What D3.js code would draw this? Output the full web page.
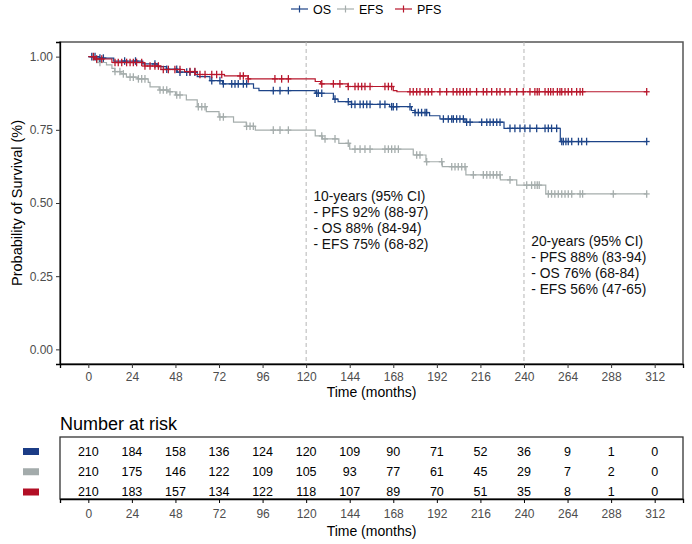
<html>
  <head>
    <meta charset="utf-8">
    <title>Survival curves</title>
    <script src="https://d3js.org/d3.v7.min.js"></script>
    <style>
      body { margin: 0; background: #fff; }
      text { font-family: 'Liberation Sans', Arial, sans-serif; }
    </style>
  </head>
  <body>
    <script>
      // --- data ---
      var months = [0, 24, 48, 72, 96, 120, 144, 168, 192, 216, 240, 264, 288, 312];
      var yTicks = [0, 0.25, 0.5, 0.75, 1];
      var seriesNames = ["OS", "EFS", "PFS"];

      var riskOS  = [210, 184, 158, 136, 124, 120, 109, 90, 71, 52, 36, 9, 1, 0];
      var riskEFS = [210, 175, 146, 122, 109, 105, 93, 77, 61, 45, 29, 7, 2, 0];
      var riskPFS = [210, 183, 157, 134, 122, 118, 107, 89, 70, 51, 35, 8, 1, 0];

      // [time, survival] at each drop
      var osSteps = [[0, 1], [6, 0.995], [14, 0.985], [30, 0.975], [38, 0.966], [43, 0.957], [49, 0.947],
        [60, 0.932], [67, 0.918], [74, 0.907], [91, 0.892], [94, 0.884], [125, 0.875], [135, 0.855],
        [137.6, 0.846], [145, 0.837], [166, 0.829], [178, 0.816], [180, 0.809], [188, 0.798],
        [193.7, 0.787], [207.5, 0.776], [229, 0.755], [260, 0.71]];
      var efsSteps = [[0, 1], [3, 0.99], [6, 0.98], [10, 0.972], [13, 0.96], [14.5, 0.949], [18, 0.941],
        [21, 0.93], [27, 0.924], [33, 0.912], [34, 0.897], [39, 0.886], [44, 0.88], [48, 0.869],
        [54, 0.852], [60, 0.829], [65, 0.812], [72, 0.794], [80, 0.776], [87, 0.762], [92, 0.749],
        [125, 0.729], [129, 0.719], [138, 0.704], [144, 0.684], [179, 0.664], [186, 0.641],
        [195, 0.624], [208, 0.596], [227, 0.579], [236, 0.561], [252, 0.531]];
      var pfsSteps = [[0, 1], [3.5, 0.992], [13, 0.98], [31, 0.968], [40, 0.956], [53, 0.949], [59, 0.939],
        [75, 0.934], [88, 0.924], [125, 0.915], [128, 0.907], [143, 0.898], [168, 0.884], [170, 0.88]];

      // censoring times (months)
      var osCensor = [1.9, 3.7, 6.4, 8.3, 20, 26, 36.7, 43.2, 48.7, 50.5, 54.2, 56, 58.7, 68, 72.5, 74.4,
        79, 80.8, 82.6, 85.4, 87.2, 101.9, 105.6, 110.2, 125.8, 126.7, 128.6, 135.9, 143.2, 145, 146.9,
        149.7, 151.5, 153.4, 155.2, 160.7, 163.4, 167.1, 168, 169.9, 177.2, 180, 181.8, 183.6, 185.5,
        186.4, 195.6, 198.3, 200.2, 201.1, 202.9, 204.7, 206.6, 208.4, 210.3, 216.7, 219.5, 221.3,
        223.1, 225, 226.8, 232.3, 235, 237.8, 240.5, 243.3, 247, 251.6, 253.4, 255.2, 258,
        260.8, 261.7, 263.1, 264.4, 266.3, 270, 271.8, 274.5, 307.6];
      var efsCensor = [2.8, 4.6, 6.4, 14.7, 17.4, 19.3, 23, 24.8, 27.6, 29.4, 31.2, 39.5, 41.3, 43.2, 45,
        48.7, 50.5, 60.6, 62.5, 64.3, 72.5, 74.4, 87.2, 89.1, 90.9, 101.9, 105.6, 110.2, 128.6, 130.4,
        135.9, 143.2, 146.9, 149.7, 152.4, 155.2, 163.4, 165.3, 167.1, 168.9, 170.8, 180.9, 182.7,
        186.4, 194.7, 200.2, 202, 203.8, 205.7, 207.5, 212.1, 217.6, 219.5, 221.3, 223.1, 225, 226.8,
        232.3, 241.5, 244.2, 246, 247.3, 248.4, 253.4, 255.2, 257, 258.9, 260.8, 262.6, 264.4, 266.3,
        270.9, 272.3, 289.2, 307.6];
      var pfsCensor = [2.8, 4.6, 7.4, 14.7, 16.5, 18.4, 21.1, 23, 24.8, 26.6, 29.4, 31.2, 34, 36.7, 38.6,
        41.3, 44.1, 47.7, 50.5, 56, 58.7, 61.5, 64.3, 68, 70.7, 73.5, 83.6, 85.4, 88.1, 102.8, 106.5,
        110.2, 128.6, 135, 138.6, 143.2, 146.9, 148.7, 150.6, 152.4, 155.2, 163.4, 165.3, 167.1, 177.2,
        179, 180.9, 182.7, 185.5, 187.3, 189.2, 193.7, 197.4, 201, 203, 204.7, 206.6, 208.4, 210.3,
        213.9, 217.6, 219.5, 222.2, 225, 226.8, 229.5, 232.3, 236, 239.6, 243.3, 246, 247.3, 248.4,
        251.6, 253.4, 254.7, 256.1, 258.4, 259.8, 260.8, 262.6, 264.4, 266.3, 269, 270.9, 272.3, 307.6];

      var note10 = ["10-years (95% CI)", "- PFS 92% (88-97)", "- OS 88% (84-94)", "- EFS 75% (68-82)"];
      var note20 = ["20-years (95% CI)", "- PFS 88% (83-94)", "- OS 76% (68-84)", "- EFS 56% (47-65)"];

      var colors = { OS: "#1d4488", EFS: "#a5adac", PFS: "#b8172c" };
      var swatch = { OS: "#1b3c86", EFS: "#a3abab", PFS: "#b20e25" };

      var width = 692, height = 544;
      var pLeft = 60, pRight = 683, pTop = 42, pBottom = 364;

      var svg = d3.select("body").append("svg")
        .attr("width", width)
        .attr("height", height);

      var x = d3.scaleLinear().domain([-15.6, 327.6]).range([pLeft, pRight]);
      var y = d3.scaleLinear().domain([-0.05, 1.05]).range([pBottom, pTop]);

      // panel frame
      svg.append("rect")
        .attr("x", pLeft).attr("y", pTop)
        .attr("width", pRight - pLeft).attr("height", pBottom - pTop)
        .attr("fill", "none").attr("stroke", "#555").attr("stroke-width", 1.5);

      // reference lines at 10 and 20 years
      svg.selectAll(".ref").data([120, 240]).enter().append("line")
        .attr("x1", function(d) { return x(d); }).attr("x2", function(d) { return x(d); })
        .attr("y1", pTop).attr("y2", pBottom)
        .attr("stroke", "#b5b5b5").attr("stroke-dasharray", "4,3");

      function survAt(steps, t) {
        var s = steps[0][1];
        for (var i = 0; i < steps.length; i++) {
          if (steps[i][0] <= t) s = steps[i][1];
        }
        return s;
      }

      var line = d3.line()
        .x(function(d) { return x(d[0]); })
        .y(function(d) { return y(d[1]); })
        .curve(d3.curveStepAfter);

      var curves = [
        { name: "EFS", steps: efsSteps, censor: efsCensor },
        { name: "OS", steps: osSteps, censor: osCensor },
        { name: "PFS", steps: pfsSteps, censor: pfsCensor }
      ];

      curves.forEach(function(c) {
        var last = d3.max(c.censor);
        var pts = c.steps.concat([[last, c.steps[c.steps.length - 1][1]]]);
        svg.append("path")
          .attr("d", line(pts))
          .attr("fill", "none")
          .attr("stroke", colors[c.name])
          .attr("stroke-width", 1.2);

        var g = svg.append("g").attr("stroke", colors[c.name]).attr("stroke-width", 1.3);
        c.censor.forEach(function(t) {
          var cx = x(t), cy = y(survAt(c.steps, t));
          g.append("line").attr("x1", cx).attr("x2", cx).attr("y1", cy - 3.8).attr("y2", cy + 3.8);
          g.append("line").attr("x1", cx - 3).attr("x2", cx + 3).attr("y1", cy).attr("y2", cy);
        });
      });

      // axes
      var yAxis = svg.append("g")
        .attr("transform", "translate(" + pLeft + ",0)")
        .call(d3.axisLeft(y).tickValues(yTicks).tickFormat(d3.format(".2f")).tickSize(4).tickPadding(3));
      var xAxis = svg.append("g")
        .attr("transform", "translate(0," + pBottom + ")")
        .call(d3.axisBottom(x).tickValues(months).tickSize(4).tickPadding(4));
      [yAxis, xAxis].forEach(function(a) {
        a.select(".domain").attr("stroke", "#000").attr("stroke-width", 1.3);
        a.selectAll(".tick line").attr("stroke", "#333");
        a.selectAll(".tick text").attr("fill", "#4d4d4d").style("font-size", "12px")
          .style("font-family", "'Liberation Sans', Arial, sans-serif");
      });

      svg.append("text")
        .attr("transform", "translate(22," + ((pTop + pBottom) / 2) + ") rotate(-90)")
        .attr("text-anchor", "middle")
        .style("font-size", "14.5px")
        .text("Probability of Survival (%)");
      svg.append("text")
        .attr("x", x(156)).attr("y", 397)
        .attr("text-anchor", "middle")
        .style("font-size", "14px")
        .text("Time (months)");

      // annotations
      function note(lines, t, ty) {
        svg.append("g").selectAll("text").data(lines).enter().append("text")
          .attr("x", x(t)).attr("y", function(d, i) { return ty + i * 16; })
          .style("font-size", "13.8px")
          .attr("fill", "#111")
          .text(function(d) { return d; });
      }
      note(note10, 124, 201);
      note(note20, 244, 246);

      // legend
      var legendX = { OS: 291, EFS: 337, PFS: 395 };
      seriesNames.forEach(function(n) {
        var lx = legendX[n];
        svg.append("line").attr("x1", lx).attr("x2", lx + 17).attr("y1", 9).attr("y2", 9)
          .attr("stroke", colors[n]).attr("stroke-width", 1.2);
        svg.append("line").attr("x1", lx + 8.5).attr("x2", lx + 8.5).attr("y1", 5.5).attr("y2", 12.5)
          .attr("stroke", colors[n]).attr("stroke-width", 1.2);
        svg.append("text").attr("x", lx + 22).attr("y", 13.5)
          .style("font-size", "12.5px").text(n);
      });

      // number at risk table
      svg.append("text").attr("x", pLeft).attr("y", 430)
        .style("font-size", "18px").text("Number at risk");

      var tTop = 437, tBottom = 499;
      var row = d3.scalePoint().domain(seriesNames).range([451, 491.5]);
      svg.append("rect")
        .attr("x", pLeft).attr("y", tTop)
        .attr("width", pRight - pLeft).attr("height", tBottom - tTop)
        .attr("fill", "none").attr("stroke", "#333").attr("stroke-width", 1.3);

      var risk = { OS: riskOS, EFS: riskEFS, PFS: riskPFS };
      seriesNames.forEach(function(n) {
        svg.append("rect").attr("x", 23).attr("y", row(n) - 3).attr("width", 16).attr("height", 7)
          .attr("fill", swatch[n]);
        svg.append("g").selectAll("text").data(risk[n]).enter().append("text")
          .attr("x", function(d, i) { return x(months[i]); })
          .attr("y", row(n) + 4.5)
          .attr("text-anchor", "middle")
          .style("font-size", "12.5px")
          .text(function(d) { return d; });
      });

      var rAxis = svg.append("g")
        .attr("transform", "translate(0," + tBottom + ")")
        .call(d3.axisBottom(x).tickValues(months).tickSize(4).tickPadding(6));
      rAxis.select(".domain").attr("stroke", "#000").attr("stroke-width", 1.3);
      rAxis.selectAll(".tick text").attr("fill", "#4d4d4d").style("font-size", "12px")
        .style("font-family", "'Liberation Sans', Arial, sans-serif");
      svg.append("text")
        .attr("x", x(156)).attr("y", 536)
        .attr("text-anchor", "middle")
        .style("font-size", "14px")
        .text("Time (months)");
    </script>
  </body>
</html>
